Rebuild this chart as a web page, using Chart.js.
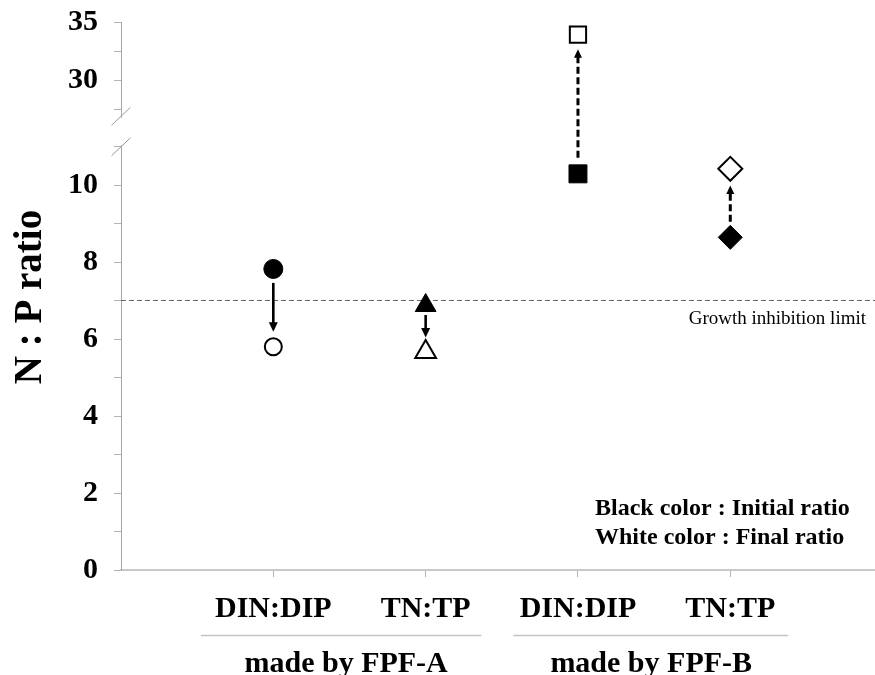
<!DOCTYPE html>
<html><head><meta charset="utf-8">
<script src="https://cdn.jsdelivr.net/npm/chart.js@4"></script>
<style>html,body{margin:0;padding:0;background:#fff;overflow:hidden}</style>
</head><body>
<canvas id="c" width="875" height="675"></canvas>
<script>
// ---------- data ----------
const categories = ['DIN:DIP', 'TN:TP', 'DIN:DIP', 'TN:TP'];
const groupLabels = ['made by FPF-A', 'made by FPF-B'];
const groupMembers = [[0, 1], [2, 3]];
const initialRatio = [7.82, 6.87, 10.29, 8.64];
const finalRatio = [5.80, 5.66, 33.93, 10.42];
const lowerTicks = [0, 1, 2, 3, 4, 5, 6, 7, 8, 9, 10, 11];
const lowerTickLabels = ['0', '', '2', '', '4', '', '6', '', '8', '', '10', ''];
const upperTicks = [27.5, 30, 32.5, 35];
const upperTickLabels = ['', '30', '', '35'];
const limitValue = 7;
const limitLabel = 'Growth inhibition limit';
const noteLines = ['Black color : Initial ratio', 'White color : Final ratio'];
const yTitle = 'N : P ratio';

// ---------- axis ranges (broken axis) ----------
const lowerRange = [0, 11.5];
const upperRange = [26, 35];

// ---------- styles ----------
const FONT = "'Liberation Serif', 'Times New Roman', serif";
const markerStyles = ['circle', 'triangle', 'rect', 'rectRot'];
const initialRadius = [9.5, 12, 12.7, 12];
const finalRadius = [8.5, 12, 11.5, 12];
const arrowDashed = [false, false, true, true];
const arrowStartGap = [14, 9.5, 16, 15.5];
const arrowEndGap = [15, 14.7, 14.8, 16.7];
const groupLineLeft = [0.475, 0.425];
const groupLineRight = [0.365, 0.38];
const groupTextShift = [5, 0.5];

function onUpper(v) { return v > lowerRange[1]; }

function makeDataset(values, filled, upper) {
  const idx = values.map((v, i) => i).filter(i => onUpper(values[i]) === upper);
  return {
    type: 'scatter',
    yAxisID: upper ? 'yUpper' : 'yLower',
    data: idx.map(i => ({ x: i + 1, y: values[i] })),
    pointStyle: idx.map(i => markerStyles[i]),
    pointRadius: idx.map(i => (filled ? initialRadius[i] : finalRadius[i])),
    pointHoverRadius: idx.map(i => (filled ? initialRadius[i] : finalRadius[i])),
    backgroundColor: filled ? '#000' : '#fff',
    borderColor: '#000',
    borderWidth: filled ? 1 : 2,
    showLine: false,
    clip: false
  };
}

const datasets = [
  makeDataset(initialRatio, true, false),
  makeDataset(initialRatio, true, true),
  makeDataset(finalRatio, false, false),
  makeDataset(finalRatio, false, true)
];

function yPix(chart, v) {
  return (onUpper(v) ? chart.scales.yUpper : chart.scales.yLower).getPixelForValue(v);
}

const decorPlugin = {
  id: 'decor',
  beforeDatasetsDraw(chart) {
    const ctx = chart.ctx, a = chart.chartArea;
    const y = chart.scales.yLower.getPixelForValue(limitValue);
    ctx.save();
    ctx.strokeStyle = '#666';
    ctx.lineWidth = 1;
    ctx.setLineDash([5, 3]);
    ctx.beginPath();
    ctx.moveTo(a.left, y);
    ctx.lineTo(a.right, y);
    ctx.stroke();
    ctx.setLineDash([]);
    ctx.fillStyle = '#000';
    ctx.font = '19px ' + FONT;
    ctx.textAlign = 'right';
    ctx.textBaseline = 'alphabetic';
    ctx.fillText(limitLabel, a.right - 9, y + 23);
    ctx.restore();
  },
  afterDatasetsDraw(chart) {
    const ctx = chart.ctx, xs = chart.scales.x;
    ctx.save();
    categories.forEach((c, i) => {
      const x = xs.getPixelForValue(i + 1);
      const y0 = yPix(chart, initialRatio[i]);
      const y1 = yPix(chart, finalRatio[i]);
      const dir = y1 > y0 ? 1 : -1;
      const ys = y0 + dir * arrowStartGap[i];
      const ye = y1 - dir * arrowEndGap[i];
      const dashed = arrowDashed[i];
      const headLen = dashed ? 8.5 : 9.5;
      const headHalf = dashed ? 4 : 4.5;
      ctx.strokeStyle = '#000';
      ctx.fillStyle = '#000';
      ctx.lineWidth = dashed ? 3 : 2.6;
      ctx.setLineDash(dashed ? [7, 3.5] : []);
      ctx.beginPath();
      ctx.moveTo(x, ys);
      ctx.lineTo(x, ye - dir * headLen + dir * 1);
      ctx.stroke();
      ctx.setLineDash([]);
      ctx.beginPath();
      ctx.moveTo(x, ye);
      ctx.lineTo(x - headHalf, ye - dir * headLen);
      ctx.lineTo(x + headHalf, ye - dir * headLen);
      ctx.closePath();
      ctx.fill();
    });
    ctx.restore();
  },
  afterDraw(chart) {
    const ctx = chart.ctx, a = chart.chartArea, xs = chart.scales.x;
    const lower = chart.scales.yLower;
    const B = lower.top;
    const axX = a.left;
    ctx.save();
    // axis break
    ctx.fillStyle = '#fff';
    ctx.fillRect(axX - 8, B - 9.5, 16, 27.5);
    ctx.strokeStyle = '#999';
    ctx.lineWidth = 1;
    [B - 11, B + 19.5].forEach(cy => {
      ctx.beginPath();
      ctx.moveTo(axX - 9.5, cy + 9);
      ctx.lineTo(axX + 9.5, cy - 9);
      ctx.stroke();
    });
    // y title
    ctx.fillStyle = '#000';
    ctx.font = 'bold 39px ' + FONT;
    ctx.textAlign = 'center';
    ctx.textBaseline = 'alphabetic';
    ctx.translate(41, (a.top + a.bottom) / 2 + 1);
    ctx.rotate(-Math.PI / 2);
    ctx.fillText(yTitle, 0, 0);
    ctx.setTransform(1, 0, 0, 1, 0, 0);
    // group labels
    groupMembers.forEach((m, g) => {
      const x0 = xs.getPixelForValue(m[0] + 1 - groupLineLeft[g]);
      const x1 = xs.getPixelForValue(m[m.length - 1] + 1 + groupLineRight[g]);
      ctx.strokeStyle = '#c4c4c4';
      ctx.lineWidth = 1.5;
      ctx.beginPath();
      ctx.moveTo(x0, 635.5);
      ctx.lineTo(x1, 635.5);
      ctx.stroke();
      ctx.fillStyle = '#000';
      ctx.font = 'bold 30px ' + FONT;
      ctx.textAlign = 'center';
      ctx.fillText(groupLabels[g], (x0 + x1) / 2 + groupTextShift[g], 672);
    });
    // note
    ctx.font = 'bold 24px ' + FONT;
    ctx.textAlign = 'left';
    noteLines.forEach((t, k) => ctx.fillText(t, 595, 515 + k * 28.5));
    ctx.restore();
  }
};

function fixY(s) { s.width = 121; s.paddingTop = 0; s.paddingBottom = 0; }

new Chart(document.getElementById('c'), {
  data: { datasets },
  options: {
    responsive: false,
    animation: false,
    events: [],
    layout: { autoPadding: false, padding: { top: 22, right: 0, bottom: 0, left: 0 } },
    plugins: { legend: { display: false }, tooltip: { enabled: false } },
    scales: {
      x: {
        type: 'linear',
        position: 'bottom',
        min: 0,
        max: 4.95,
        afterBuildTicks: s => { s.ticks = categories.map((c, i) => ({ value: i + 1 })); },
        afterFit: s => { s.height = 105; s.paddingRight = 0; s.paddingLeft = 0; },
        ticks: {
          autoSkip: false, maxRotation: 0, padding: 14, color: '#000',
          font: { family: FONT, size: 30, weight: 'bold' },
          callback: (v, i) => categories[i]
        },
        grid: { drawOnChartArea: false, drawTicks: true, tickLength: 7, color: '#b4b4b4' },
        border: { color: '#c8c8c8', width: 2 }
      },
      yLower: {
        type: 'linear',
        position: 'left',
        stack: 'y',
        stackWeight: 442.75,
        min: lowerRange[0],
        max: lowerRange[1],
        afterBuildTicks: s => { s.ticks = lowerTicks.map(v => ({ value: v })); },
        afterFit: fixY,
        ticks: {
          autoSkip: false, padding: 16, color: '#000',
          font: { family: FONT, size: 30, weight: 'bold' },
          callback: (v, i) => lowerTickLabels[i]
        },
        grid: { drawOnChartArea: false, drawTicks: true, tickLength: 7, color: '#b4b4b4' },
        border: { color: '#a8a8a8', width: 1 }
      },
      yUpper: {
        type: 'linear',
        position: 'left',
        stack: 'y',
        stackWeight: 105.25,
        min: upperRange[0],
        max: upperRange[1],
        afterBuildTicks: s => { s.ticks = upperTicks.map(v => ({ value: v })); },
        afterFit: fixY,
        ticks: {
          autoSkip: false, padding: 16, color: '#000',
          font: { family: FONT, size: 30, weight: 'bold' },
          callback: (v, i) => upperTickLabels[i]
        },
        grid: { drawOnChartArea: false, drawTicks: true, tickLength: 7, color: '#b4b4b4' },
        border: { color: '#a8a8a8', width: 1 }
      }
    }
  },
  plugins: [decorPlugin]
});
</script>
</body></html>
